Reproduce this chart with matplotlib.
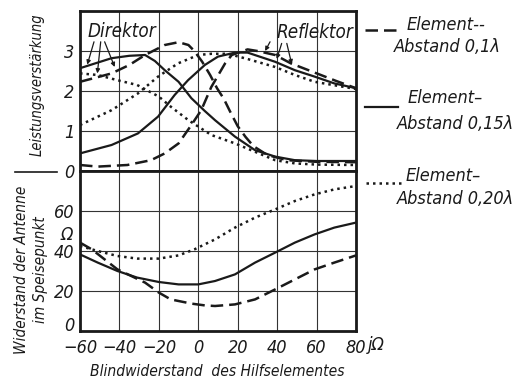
import matplotlib.pyplot as plt
from matplotlib import font_manager as fm
from matplotlib.lines import Line2D
from matplotlib.transforms import ScaledTranslation

# a narrow italic face like the original lettering, if the system has one
fonts = [(f.name, f.stretch, f.style) for f in fm.fontManager.ttflist]
narrow = [n for (n, st, sy) in fonts if sy in ('italic', 'oblique')
          and st in ('condensed', 'semi-condensed', 'extra-condensed', 'ultra-condensed')]
if narrow:
    plt.rcParams['font.family'] = [narrow[0], 'DejaVu Sans']
    plt.rcParams['font.stretch'] = 'condensed'
else:
    plt.rcParams['font.family'] = ['Liberation Sans', 'DejaVu Sans']
plt.rcParams['font.style'] = 'italic'

# --- Leistungsverstaerkung (upper panel) ---
x_dash_dir = [-60, -50, -44, -35, -27, -17, -10, -5, -2, 2, 6, 9.5, 13, 16, 20, 24, 28, 35, 45, 60, 80]
y_dash_dir = [2.23, 2.36, 2.44, 2.65, 2.9, 3.15, 3.22, 3.15, 3.0, 2.73, 2.4, 2.07, 1.8, 1.5, 1.12, 0.85, 0.62, 0.4, 0.27, 0.23, 0.22]
x_dash_ref = [-60, -51, -36, -24, -17, -10, -3.5, 1.5, 6.6, 13.6, 17, 25, 30, 39, 47, 58, 70, 80]
y_dash_ref = [0.15, 0.11, 0.15, 0.27, 0.44, 0.69, 1.15, 1.52, 2.1, 2.69, 2.9, 3.04, 3.0, 2.9, 2.69, 2.48, 2.25, 2.07]
x_sol_dir = [-60, -44, -35, -27, -22, -17, -10, -3.5, 3.3, 8.5, 18.6, 28.8, 39, 49, 60, 80]
y_sol_dir = [2.57, 2.82, 2.88, 2.9, 2.75, 2.52, 2.23, 1.82, 1.5, 1.27, 0.86, 0.52, 0.36, 0.27, 0.25, 0.25]
x_sol_ref = [-60, -44, -30.6, -20.4, -12, -5.2, 3.3, 10, 18.6, 25, 39, 49, 59, 69, 80]
y_sol_ref = [0.44, 0.65, 0.94, 1.36, 1.9, 2.27, 2.65, 2.86, 2.96, 2.96, 2.73, 2.52, 2.36, 2.19, 2.07]
x_dot_dir = [-60, -51, -41, -31, -20, -14, -5, 6.6, 18.6, 28.8, 39, 49, 60, 80]
y_dot_dir = [2.44, 2.4, 2.27, 2.15, 1.86, 1.61, 1.27, 0.9, 0.69, 0.48, 0.27, 0.19, 0.16, 0.15]
x_dot_ref = [-60, -44, -30.6, -20.4, -10.3, 0, 6.6, 15, 25, 39, 49, 59, 80]
y_dot_ref = [1.15, 1.52, 1.94, 2.36, 2.69, 2.9, 2.93, 2.93, 2.8, 2.6, 2.4, 2.23, 2.05]

# --- Widerstand im Speisepunkt (lower panel) ---
x_r_sol = [-60, -51, -41, -31, -20, -10, 0, 8.5, 18.6, 28.8, 39, 49, 59, 69, 80]
y_r_sol = [38.3, 34.2, 30, 26.7, 24.5, 23.3, 23.3, 25, 28.3, 34.2, 39.2, 44.2, 48.3, 51.7, 54.2]
x_r_dash = [-60, -54, -47.5, -41, -27, -20, -14, -3.5, 3.3, 8.5, 18.6, 28.8, 39, 49, 59, 69, 80]
y_r_dash = [44.2, 40.8, 35.8, 30.8, 24.2, 19.2, 15.8, 13.7, 12.8, 12.5, 13.3, 15.8, 20.8, 25.8, 30.8, 34.2, 37.8]
x_r_dot = [-60, -51, -41, -31, -20, -10, -2, 8.5, 18.6, 28.8, 39, 49, 59, 69, 80]
y_r_dot = [42.5, 40, 37.5, 36.2, 36.2, 37.8, 40.8, 45.8, 51.7, 56.7, 60.8, 65, 68.3, 70.8, 72.5]

xticks = [-60, -40, -20, 0, 20, 40, 60, 80]
xlabels = ['\u221260', '\u221240', '\u221220', '0', '20', '40', '60', '80']

W, H = 526, 385
def fx(px):
    return px / W
def fy(py):
    return 1 - py / H

fig = plt.figure(figsize=(5.26, 3.85), dpi=100)
ax1 = fig.add_axes([fx(80), fy(171), fx(356) - fx(80), fy(11) - fy(171)])
ax2 = fig.add_axes([fx(80), fy(331), fx(356) - fx(80), fy(171) - fy(331)])

ink = '#1a1a1a'
dash = dict(color=ink, lw=1.8, ls=(0, (5, 2.4)))
solid = dict(color=ink, lw=1.6, ls='-')
dots = dict(color=ink, lw=1.8, ls=(0, (1, 1.6)))

ax1.plot(x_dash_dir, y_dash_dir, **dash)
ax1.plot(x_dash_ref, y_dash_ref, **dash)
ax1.plot(x_sol_dir, y_sol_dir, **solid)
ax1.plot(x_sol_ref, y_sol_ref, **solid)
ax1.plot(x_dot_dir, y_dot_dir, **dots)
ax1.plot(x_dot_ref, y_dot_ref, **dots)

ax2.plot(x_r_dash, y_r_dash, **dash)
ax2.plot(x_r_sol, y_r_sol, **solid)
ax2.plot(x_r_dot, y_r_dot, **dots)

for ax in (ax1, ax2):
    ax.set_xlim(-60, 80)
    ax.set_xticks(xticks)
    ax.grid(True, color='#333333', lw=0.8)
    ax.set_axisbelow(True)
    ax.tick_params(length=0, labelsize=13, pad=4, colors=ink)
    for s in ax.spines.values():
        s.set_linewidth(2)
        s.set_color(ink)

ax1.set_ylim(0, 4)
ax1.set_yticks([0, 1, 2, 3, 4])
ax1.set_yticklabels(['0', '1', '2', '3', ''])
ax1.tick_params(labelbottom=False)

ax2.set_ylim(0, 80)
ax2.set_yticks([0, 20, 40, 60, 80])
ax2.set_yticklabels(['0', '20', '40', '60', ''])
ax2.set_xticklabels(xlabels)
ax2.tick_params(axis='x', pad=6)
# the lower "0" sits a little above the corner, clear of "-60"
zero = ax2.get_yticklabels()[0]
zero.set_transform(zero.get_transform() + ScaledTranslation(0, 5 / 72, fig.dpi_scale_trans))
ax2.text(-63.5, 48, '\u03a9', ha='right', va='center', fontsize=13, color=ink)
ax2.text(86.0, -0.085, 'j\u03a9', transform=ax2.get_xaxis_transform(),
         ha='left', va='center', fontsize=13, color=ink, clip_on=False)

# Direktor / Reflektor labels with leader lines
ax1.text(-38.7, 3.48, 'Direktor', ha='center', va='center', fontsize=13.5, color=ink)
ax1.text(59.2, 3.47, 'Reflektor', ha='center', va='center', fontsize=13.5, color=ink)
arrow = dict(arrowstyle='-|>', lw=0.9, color=ink, mutation_scale=6, shrinkA=0, shrinkB=0)
for (x0, y0, x1, y1) in [(-52.9, 3.23, -56.3, 2.66), (-49.5, 3.23, -51.2, 2.44),
                         (-47.5, 3.23, -42.4, 2.6), (36.4, 3.23, 33.9, 3.0),
                         (42.3, 3.19, 39.8, 2.8), (44.9, 3.19, 47.4, 2.67)]:
    ax1.annotate('', xy=(x1, y1), xytext=(x0, y0), arrowprops=arrow)

# axis titles
fig.text(fx(217), fy(371), 'Blindwiderstand  des Hilfselementes', ha='center', va='center',
         fontsize=11.2, color=ink)
fig.text(fx(37), fy(85), 'Leistungsverst\u00e4rkung', rotation=90, ha='center', va='center',
         fontsize=10.5, color=ink)
fig.text(fx(31), fy(270), 'Widerstand der Antenne\nim Speisepunkt', rotation=90,
         ha='center', va='center', multialignment='center', fontsize=11,
         linespacing=1.4, color=ink)
fig.add_artist(Line2D([fx(15), fx(57)], [fy(172), fy(172)], color=ink, lw=1.2))

# legend at the right
fig.add_artist(Line2D([fx(365), fx(402)], [fy(30), fy(30)], **dash))
fig.text(fx(407), fy(25), 'Element--', ha='left', va='center', fontsize=13, color=ink)
fig.text(fx(394), fy(47), 'Abstand 0,1\u03bb', ha='left', va='center', fontsize=13, color=ink)
fig.add_artist(Line2D([fx(365), fx(398)], [fy(107), fy(107)], **solid))
fig.text(fx(408), fy(98), 'Element\u2013', ha='left', va='center', fontsize=13, color=ink)
fig.text(fx(397), fy(124), 'Abstand 0,15\u03bb', ha='left', va='center', fontsize=13, color=ink)
fig.add_artist(Line2D([fx(366), fx(404)], [fy(183), fy(183)], **dots))
fig.text(fx(406), fy(176), 'Element\u2013', ha='left', va='center', fontsize=13, color=ink)
fig.text(fx(397), fy(199), 'Abstand 0,20\u03bb', ha='left', va='center', fontsize=13, color=ink)

fig.savefig('out.png', dpi=100, facecolor='white')
